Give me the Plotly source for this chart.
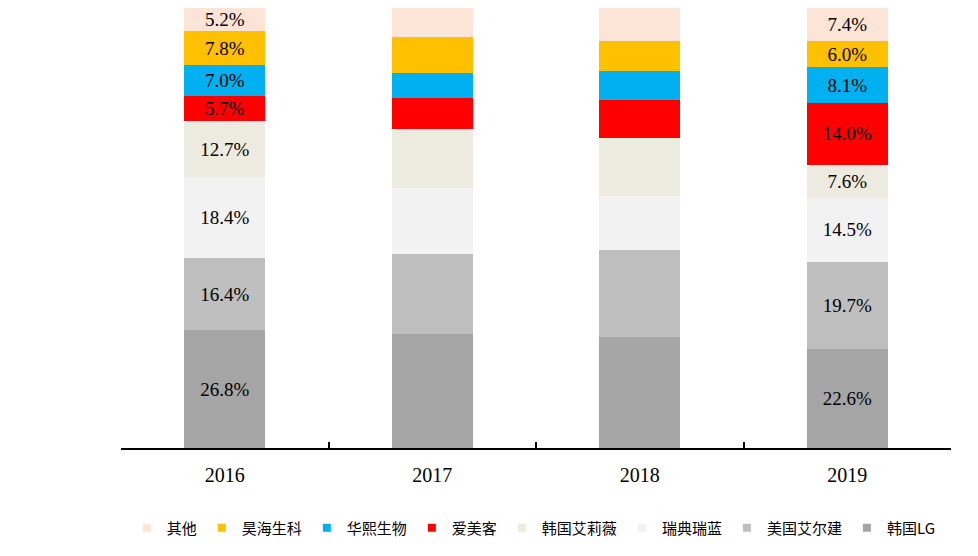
import plotly.graph_objects as go

years = ["2016", "2017", "2018", "2019"]
companies = ["韩国LG", "美国艾尔建", "瑞典瑞蓝", "韩国艾莉薇", "爱美客", "华熙生物", "昊海生科", "其他"]
shares = {
    "韩国LG":     [26.8, 26.0, 25.3, 22.6],
    "美国艾尔建": [16.4, 18.0, 19.6, 19.7],
    "瑞典瑞蓝":   [18.4, 15.0, 12.3, 14.5],
    "韩国艾莉薇": [12.7, 13.4, 13.2, 7.6],
    "爱美客":     [5.7, 7.1, 8.7, 14.0],
    "华熙生物":   [7.0, 5.7, 6.6, 8.1],
    "昊海生科":   [7.8, 8.2, 6.8, 6.0],
    "其他":       [5.2, 6.6, 7.5, 7.4],
}
labeled_years = ["2016", "2019"]
colors = {
    "韩国LG": "#A5A5A5",
    "美国艾尔建": "#BFBFBF",
    "瑞典瑞蓝": "#F2F2F2",
    "韩国艾莉薇": "#EDEBE0",
    "爱美客": "#FF0000",
    "华熙生物": "#00B0F0",
    "昊海生科": "#FFC000",
    "其他": "#FCE4D6",
}

serif = "Liberation Serif, Times New Roman, Noto Sans CJK SC"

fig = go.Figure()
for c in companies:
    vals = shares[c]
    texts = [f"{v:.1f}%" if y in labeled_years else "" for y, v in zip(years, vals)]
    fig.add_trace(go.Bar(
        x=years, y=vals, name=c, showlegend=False, legendgroup=c,
        marker=dict(color=colors[c], line=dict(width=0)),
        text=texts, textposition="inside", insidetextanchor="middle",
        textangle=0, constraintext="none",
        textfont=dict(family=serif, size=19, color="#000000"),
        hoverinfo="x+y+name",
    ))

# legend entries with small square swatches
for c in companies:
    fig.add_trace(go.Scatter(
        x=[None], y=[None], mode="markers", name=c, legendgroup=c,
        marker=dict(symbol="square", size=8, color=colors[c]),
        showlegend=True,
    ))

fig.update_layout(
    barmode="stack",
    bargap=0.61,
    width=978, height=556,
    margin=dict(l=113, r=35, t=0, b=116),
    paper_bgcolor="white", plot_bgcolor="white",
    uniformtext=dict(minsize=19, mode="show"),
    font=dict(family=serif, size=16, color="#000000"),
    legend=dict(
        orientation="h", traceorder="reversed",
        x=0.007, xanchor="left", y=-0.182, yanchor="middle",
        font=dict(family="Noto Sans CJK SC", size=15, color="#000000"),
        itemwidth=30, tracegroupgap=0,
    ),
    showlegend=True,
)
fig.update_xaxes(
    showline=True, linecolor="#000000", linewidth=1.5,
    ticks="inside", ticklen=6, tickcolor="#000000", tickwidth=1.5,
    tickson="boundaries", showgrid=False,
    tickfont=dict(family=serif, size=20, color="#000000"),
    ticklabelstandoff=8,
)
fig.update_yaxes(range=[0, 100], visible=False, showgrid=False)

fig.write_html("out.html")
